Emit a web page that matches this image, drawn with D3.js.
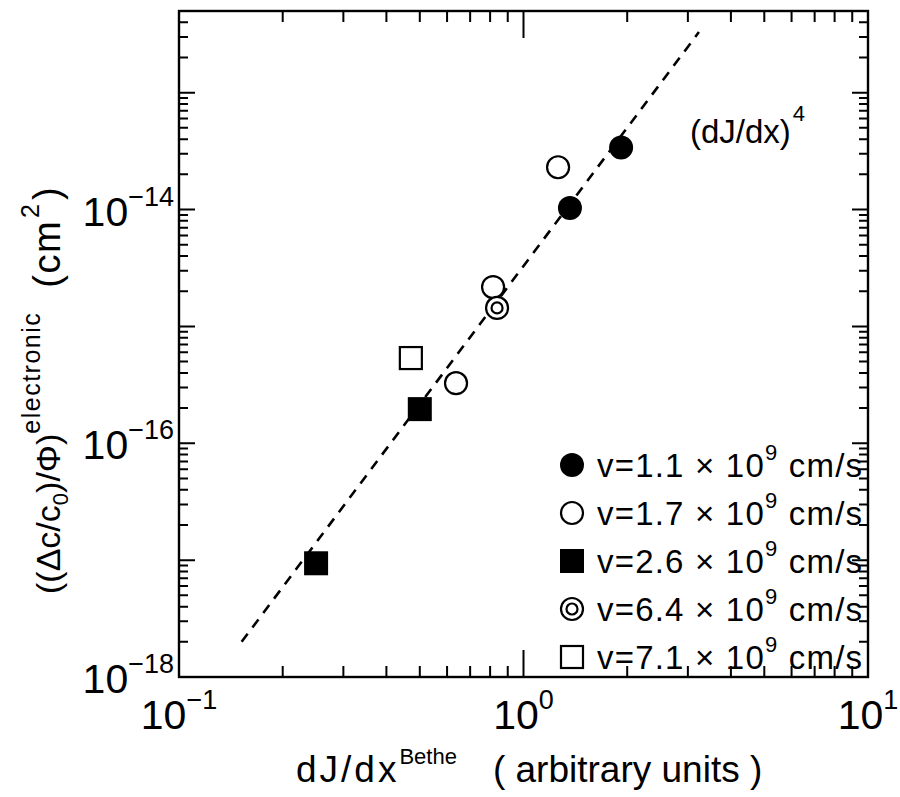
<!DOCTYPE html>
<html>
<head>
<meta charset="utf-8">
<script src="https://cdn.jsdelivr.net/npm/d3@7"></script>
<style>
  html, body { margin: 0; padding: 0; background: #fff; }
  svg { display: block; }
  text { font-family: "Liberation Sans", Arial, Helvetica, sans-serif; fill: #000; }
</style>
</head>
<body>
<svg id="chart" width="900" height="797"></svg>
<script>
// Electronic damage cross-section vs Bethe stopping power (log-log)
const v11X = [1.364, 1.92];            // v = 1.1e9 cm/s (filled circles)
const v11Y = [1.03e-14, 3.4e-14];
const v17X = [1.26, 0.816, 0.637];     // v = 1.7e9 cm/s (open circles)
const v17Y = [2.3e-14, 2.17e-15, 3.27e-16];
const v26X = [0.25, 0.5];              // v = 2.6e9 cm/s (filled squares)
const v26Y = [9.4e-18, 1.96e-16];
const v64X = [0.838];                  // v = 6.4e9 cm/s (double circle)
const v64Y = [1.44e-15];
const v71X = [0.471];                  // v = 7.1e9 cm/s (open square)
const v71Y = [5.36e-16];

// (dJ/dx)^4 guide line end points
const fitX = [0.152, 3.23];
const fitY = [2.0e-18, 3.3e-13];

const xTickValues = [0.1, 1, 10];
const xTickExp = ["\u22121", "0", "1"];
const yTickValues = [1e-18, 1e-16, 1e-14];
const yTickExp = ["\u221218", "\u221216", "\u221214"];

// Minor tick positions (mantissas 2..9 in each decade)
const xMinor = [0.2, 0.3, 0.4, 0.5, 0.6, 0.7, 0.8, 0.9, 2, 3, 4, 5, 6, 7, 8, 9];
const yMajor = [1e-18, 1e-17, 1e-16, 1e-15, 1e-14, 1e-13];
const yMantissa = [2, 3, 4, 5, 6, 7, 8, 9];
const yDecades = [1e-18, 1e-17, 1e-16, 1e-15, 1e-14];
const yMinorTop = [2e-13, 3e-13, 4e-13];

const legendLabels = ["v=1.1", "v=1.7", "v=2.6", "v=6.4", "v=7.1"];
const legendShapes = ["filledCircle", "openCircle", "filledSquare", "doubleCircle", "openSquare"];

const svg = d3.select("#chart");
const padL = 179, padR = 868, padT = 11, padB = 677;

const x = d3.scaleLog().domain([0.1, 10]).range([padL, padR]);
const y = d3.scaleLog().domain([1e-18, 5e-13]).range([padB, padT]);

const yMinor = yDecades.flatMap(dec => yMantissa.map(m => m * dec)).concat(yMinorTop);

const ink = "#000";

// Inward ticks on all four sides, built as one path per set
function xTickPath(vals, len) {
  let p = "";
  vals.forEach(v => {
    const px = x(v).toFixed(2);
    p += `M${px},${padB}V${padB - len}M${px},${padT}V${padT + len}`;
  });
  return p;
}
function yTickPath(vals, len) {
  let p = "";
  vals.forEach(v => {
    const py = y(v).toFixed(2);
    p += `M${padL},${py}H${padL + len}M${padR},${py}H${padR - len}`;
  });
  return p;
}
const tickG = svg.append("g").attr("fill", "none").attr("stroke", ink).attr("stroke-width", 2);
tickG.append("path").attr("d", xTickPath(xTickValues, 27));
tickG.append("path").attr("d", xTickPath(xMinor, 11));
tickG.append("path").attr("d", yTickPath(yMajor, 16));
tickG.append("path").attr("d", yTickPath(yMinor, 9));

// Frame
svg.append("rect")
  .attr("x", padL).attr("y", padT)
  .attr("width", padR - padL).attr("height", padB - padT)
  .attr("fill", "none").attr("stroke", ink).attr("stroke-width", 2.4);

// Tick labels: 10 with superscript exponent
xTickValues.forEach((v, i) => {
  const t = svg.append("text")
    .attr("x", x(v)).attr("y", 729)
    .attr("text-anchor", "middle")
    .style("font-size", "41px");
  t.append("tspan").text("10");
  t.append("tspan").attr("dy", -20).style("font-size", "27px").text(xTickExp[i]);
});
yTickValues.forEach((v, i) => {
  const t = svg.append("text")
    .attr("x", 174).attr("y", y(v) + 16)
    .attr("text-anchor", "end")
    .style("font-size", "41px");
  t.append("tspan").text("10");
  t.append("tspan").attr("dy", -20).style("font-size", "27px").text(yTickExp[i]);
});

// Axis titles
const xt = svg.append("text")
  .attr("x", 296).attr("y", 782)
  .style("font-size", "37px");
xt.append("tspan").style("letter-spacing", "3px").text("dJ/dx");
xt.append("tspan").attr("dy", -18).style("font-size", "22px").text("Bethe");
xt.append("tspan").attr("dy", 18).attr("dx", 36).text("( arbitrary units )");

const yt = svg.append("text")
  .attr("transform", "translate(60,594) rotate(-90)")
  .style("font-size", "34px");
yt.append("tspan").text("((\u0394c/c");
yt.append("tspan").attr("dy", 8).style("font-size", "22px").text("0");
yt.append("tspan").attr("dy", -8).text(")/\u03a6)");
yt.append("tspan").attr("dy", -20).style("font-size", "25px").style("letter-spacing", "1.5px").text("electronic");
yt.append("tspan").attr("dy", 20).attr("dx", 24).style("font-size", "38px").style("letter-spacing", "1.5px").text("(cm");
yt.append("tspan").attr("dy", -21).attr("dx", 2).style("font-size", "25px").text("2");
yt.append("tspan").attr("dy", 21).attr("dx", 4).style("font-size", "38px").text(")");

// Clip for marks
svg.append("clipPath").attr("id", "plotClip")
  .append("rect").attr("x", padL).attr("y", padT)
  .attr("width", padR - padL).attr("height", padB - padT);
const plot = svg.append("g").attr("clip-path", "url(#plotClip)");

// Dashed guide line
const line = d3.line().x(d => x(d[0])).y(d => y(d[1]));
plot.append("path")
  .datum(d3.zip(fitX, fitY))
  .attr("d", line)
  .attr("fill", "none").attr("stroke", ink)
  .attr("stroke-width", 2.6).attr("stroke-dasharray", "10,8");

// Marker drawing
const R = 12, S = 24;
function drawMarker(g, shape, cx, cy) {
  if (shape === "filledCircle") {
    g.append("circle").attr("cx", cx).attr("cy", cy).attr("r", R).attr("fill", ink);
  } else if (shape === "openCircle") {
    g.append("circle").attr("cx", cx).attr("cy", cy).attr("r", R - 1)
      .attr("fill", "#fff").attr("stroke", ink).attr("stroke-width", 2.2);
  } else if (shape === "filledSquare") {
    g.append("rect").attr("x", cx - S / 2).attr("y", cy - S / 2)
      .attr("width", S).attr("height", S).attr("fill", ink);
  } else if (shape === "openSquare") {
    g.append("rect").attr("x", cx - S / 2 + 1).attr("y", cy - S / 2 + 1)
      .attr("width", S - 2).attr("height", S - 2)
      .attr("fill", "#fff").attr("stroke", ink).attr("stroke-width", 2.2);
  } else if (shape === "doubleCircle") {
    g.append("circle").attr("cx", cx).attr("cy", cy).attr("r", R - 1)
      .attr("fill", "#fff").attr("stroke", ink).attr("stroke-width", 2.2);
    g.append("circle").attr("cx", cx).attr("cy", cy).attr("r", 5.5)
      .attr("fill", "none").attr("stroke", ink).attr("stroke-width", 2.2);
  }
}

const seriesList = [
  [v71X, v71Y, "openSquare"],
  [v26X, v26Y, "filledSquare"],
  [v17X, v17Y, "openCircle"],
  [v64X, v64Y, "doubleCircle"],
  [v11X, v11Y, "filledCircle"]
];
seriesList.forEach(([xs, ys, shape]) => {
  const g = plot.append("g");
  xs.forEach((xv, i) => drawMarker(g, shape, x(xv), y(ys[i])));
});

// Fit annotation
const ann = svg.append("text").attr("x", 690).attr("y", 143).style("font-size", "33px");
ann.append("tspan").text("(dJ/dx)");
ann.append("tspan").attr("dy", -22).attr("dx", 2).style("font-size", "22px").text("4");

// Legend
const legY0 = 465, legDy = 48;
legendLabels.forEach((lab, i) => {
  const cy = legY0 + i * legDy;
  const g = svg.append("g");
  drawMarker(g, legendShapes[i], 572, cy);
  const t = g.append("text").attr("x", 597).attr("y", cy + 12)
    .style("font-size", "33px").style("letter-spacing", "1.2px");
  t.append("tspan").text(lab + " \u00d7 10");
  t.append("tspan").attr("dy", -17).style("font-size", "22px").text("9");
  t.append("tspan").attr("dy", 17).text(" cm/s");
});
</script>
</body>
</html>
